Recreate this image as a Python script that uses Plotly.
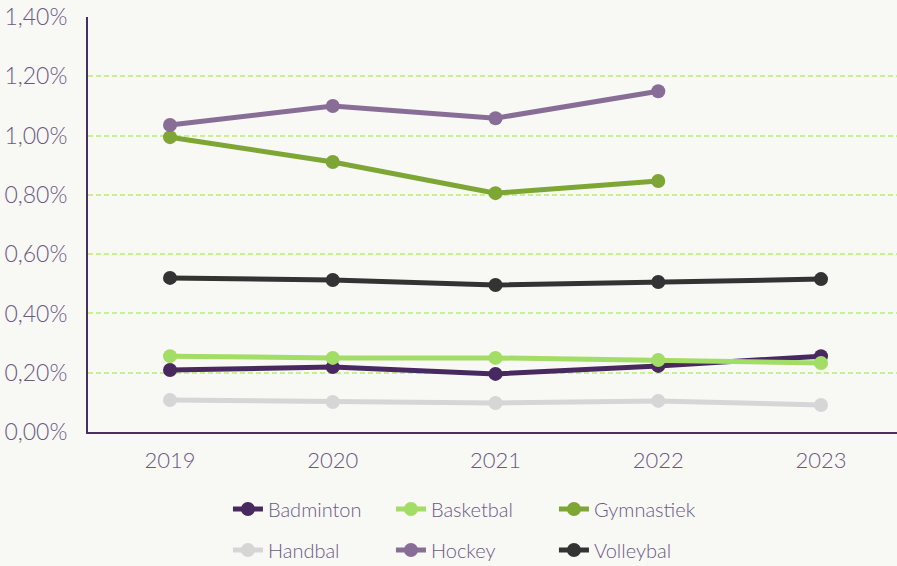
import plotly.graph_objects as go

years = [2019, 2020, 2021, 2022, 2023]
badminton = [0.209, 0.219, 0.196, 0.223, 0.256]
basketbal = [0.256, 0.250, 0.250, 0.243, 0.233]
gymnastiek = [0.995, 0.911, 0.806, 0.847, None]
handbal = [0.108, 0.101, 0.098, 0.105, 0.091]
hockey = [1.036, 1.100, 1.059, 1.150, None]
volleybal = [0.520, 0.513, 0.496, 0.506, 0.516]

series = [
    ("Badminton", badminton, "#48295f", "legend"),
    ("Basketbal", basketbal, "#a2dd66", "legend"),
    ("Gymnastiek", gymnastiek, "#7ea634", "legend"),
    ("Handbal", handbal, "#d6d6d6", "legend2"),
    ("Hockey", hockey, "#886e96", "legend2"),
    ("Volleybal", volleybal, "#333333", "legend2"),
]

fig = go.Figure()
for name, vals, col, lg in series:
    fig.add_trace(go.Scatter(
        x=years, y=[v / 100 if v is not None else None for v in vals],
        name=name, mode="lines+markers",
        line=dict(color=col, width=5),
        marker=dict(color=col, size=14),
        legend=lg,
    ))

font_col = "#6c5886"
lfont = dict(family="Lato", size=20, color=font_col, weight=300)
fig.update_layout(
    width=897, height=566,
    paper_bgcolor="#f8f8f4", plot_bgcolor="#f8f8f4",
    margin=dict(l=88, r=0, t=17, b=134, autoexpand=False),
    separators=",.",
    font=dict(family="Lato", color=font_col, size=20, weight=300),
    showlegend=True,
    legend=dict(orientation="h", x=0.173, xanchor="left", yref="container",
                y=0.1007, yanchor="middle",
                entrywidth=118, font=lfont, bgcolor="rgba(0,0,0,0)"),
    legend2=dict(orientation="h", x=0.173, xanchor="left", yref="container",
                 y=0.0283, yanchor="middle",
                 entrywidth=118, font=lfont, bgcolor="rgba(0,0,0,0)"),
)
fig.update_xaxes(
    range=[2018.496, 2023.467], tickvals=years, ticktext=[str(y) for y in years],
    showgrid=False, zeroline=False, showline=True, linecolor="#4a2f62", linewidth=2,
    ticks="", ticklabelstandoff=8,
    tickfont=dict(family="Lato", size=22, color=font_col, weight=300),
)
fig.update_yaxes(
    range=[0, 0.014005], tickvals=[0, 0.002, 0.004, 0.006, 0.008, 0.010, 0.012, 0.014],
    tickformat=".2%",
    showgrid=True, gridcolor="#c6f28a", griddash="5px,3px", gridwidth=1.5,
    zeroline=False, showline=True, linecolor="#4a2f62", linewidth=2,
    ticks="", ticklabelstandoff=14,
    tickfont=dict(family="Lato", size=23, color=font_col, weight=300),
)
fig.write_html(
    "out.html",
    config={"displayModeBar": False},
    post_script="document.body.style.margin='0';document.body.style.background='#f8f8f4';",
)
